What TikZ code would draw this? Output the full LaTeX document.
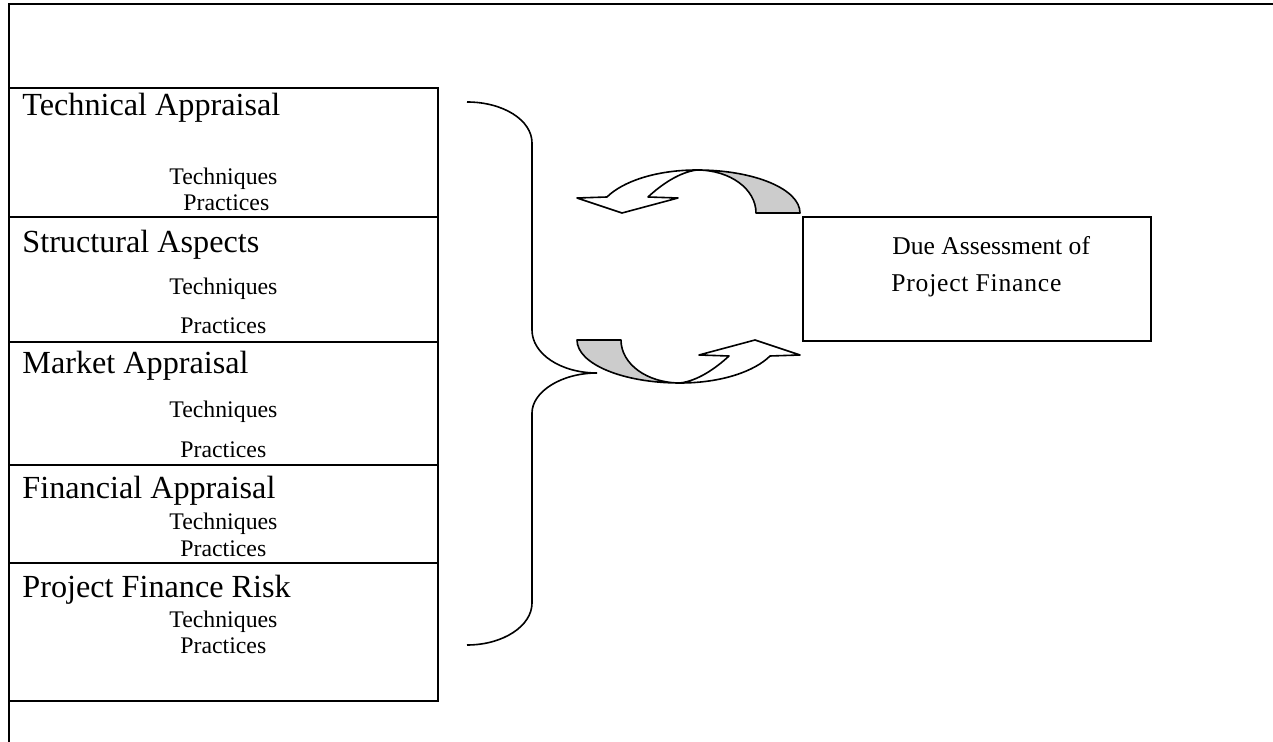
\documentclass[tikz,border=0pt]{standalone}
\usepackage{fontspec}
\setmainfont{Liberation Serif}
\usetikzlibrary{positioning}
\definecolor{Ink}{HTML}{000000}
\definecolor{RibbonGrey}{HTML}{CCCCCC}
\tikzset{
  frame/.style={draw=Ink,line width=1pt},
  stagebox/.style={draw=Ink,fill=white,line width=1pt,minimum width=214.5pt,inner sep=0pt},
  duebox/.style={draw=Ink,fill=white,line width=1pt,minimum width=174pt,minimum height=62pt,inner sep=0pt},
  heading/.style={font=\fontsize{16.1}{19}\selectfont,anchor=base west,inner sep=0pt},
  itemtext/.style={font=\fontsize{11.9}{14}\selectfont,anchor=base west,inner sep=0pt},
  duetext/.style={font=\fontsize{12.8}{15}\selectfont,anchor=base west,inner sep=0pt},
  bracket/.style={draw=Ink,line width=.8pt},
  ribbon/.style={draw=Ink,fill=white,line width=.8pt,line join=round},
  ribbonback/.style={draw=Ink,fill=RibbonGrey,line width=.8pt,line join=round}
}
\begin{document}
\begin{tikzpicture}[x=.5pt,y=-.5pt]
  \useasboundingbox (0,0) rectangle (1273,742);
  \draw[frame] (1273,4.5) -- (9,4.5) -- (9,742);

  % appraisal stages
  \node[stagebox,minimum height=64.5pt] (tech) at (223.5,152.5) {};
  \node[stagebox,minimum height=62.5pt] (struct) at (223.5,279.5) {};
  \node[stagebox,minimum height=61.5pt] (market) at (223.5,403.5) {};
  \node[stagebox,minimum height=49pt] (fin) at (223.5,514) {};
  \node[stagebox,minimum height=69pt] (risk) at (223.5,632) {};

  \node[heading] (techhead) at (22,116) {Technical Appraisal};
  \node[itemtext] (techtq) at (169,185) {Techniques};
  \node[itemtext] (techpr) at (183,211) {Practices};

  \node[heading] (structhead) at (22,253) {Structural Aspects};
  \node[itemtext] (structtq) at (169,295) {Techniques};
  \node[itemtext] (structpr) at (180,334) {Practices};

  \node[heading] (markethead) at (22,374) {Market Appraisal};
  \node[itemtext] (markettq) at (169,418) {Techniques};
  \node[itemtext] (marketpr) at (180,458) {Practices};

  \node[heading] (finhead) at (22,499) {Financial Appraisal};
  \node[itemtext] (fintq) at (169,529) {Techniques};
  \node[itemtext] (finpr) at (180,556) {Practices};

  \node[heading] (riskhead) at (22,597) {Project Finance Risk};
  \node[itemtext] (risktq) at (169,627) {Techniques};
  \node[itemtext] (riskpr) at (180,653) {Practices};

  % target
  \node[duebox] (due) at (977,279) {};
  \node[duetext] (duetop) at (892,255) {Due Assessment of};
  \node[duetext] (duebottom) at (891,292) {\addfontfeature{LetterSpace=3}Project Finance};

  % brace
  \draw[bracket] (467,102) .. controls (503,102) and (532,120) .. (532,143) -- (532,330)
    .. controls (532,354) and (561,373) .. (597,373)
    .. controls (561,373) and (532,392) .. (532,413) -- (532,603)
    .. controls (532,626) and (503,645) .. (467,645);

  % cycle arrows
  \foreach \turn in {0,180} {
    \begin{scope}[rotate around={\turn:(688.5,276.5)}]
      \filldraw[ribbonback] (800,213) -- (756,213) .. controls (756,189) and (730,170) .. (697,170)
        .. controls (754,170) and (800,189) .. cycle;
      \filldraw[ribbon] (697,170) .. controls (655,170) and (622,182) .. (607,197) -- (577,198)
        -- (622,213) -- (678,198) -- (648,197) .. controls (662,184) and (680,172) .. cycle;
    \end{scope}
  }
\end{tikzpicture}
\end{document}
